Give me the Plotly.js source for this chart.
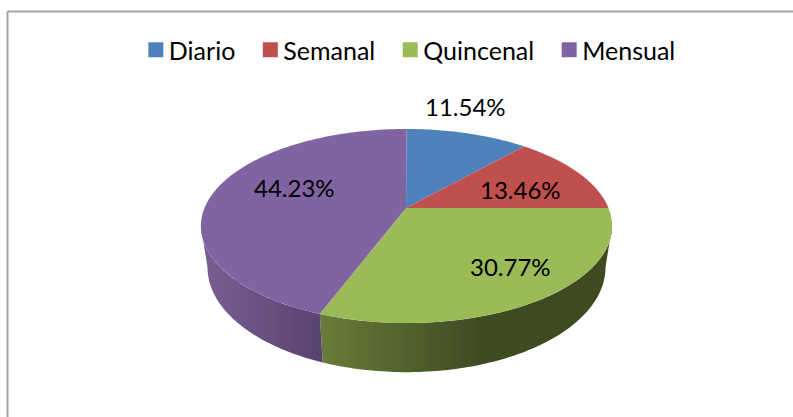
<!DOCTYPE html>
<html><head><meta charset="utf-8">
<script src="https://cdn.plot.ly/plotly-3.0.1.min.js"></script>
<style>html,body{margin:0;padding:0;background:#fff}#c{width:793px;height:417px}</style>
</head><body><div id="c"></div>
<script>
const categories = ["Diario","Semanal","Quincenal","Mensual"];
const shares = [11.54,13.46,30.77,44.23];
const topColors = ["#4f81bd","#c0504d","#9bbb59","#8064a2"];
const FONT = "Lato, Carlito, sans-serif";

// perspective projection of a tilted disc onto the pixel-sized axes
const cx=406, cy=208, R=202, S=93.7, K=0.1856, DEPTH=40, BOTTOM=0.968;
const WIDEST=Math.asin(K)*180/Math.PI; // angle past 90 deg at which the outline is widest
function project(deg, floor){
  const a=deg*Math.PI/180, u=Math.sin(a), v=Math.cos(a), w=1+K*v;
  const f=floor?BOTTOM:1;
  return [cx+0.5+R*f*u/w, cy-S*v/w+(floor?DEPTH/w:0)];
}
function arc(a0,a1,floor){
  const n=Math.max(2,Math.ceil(Math.abs(a1-a0))), xs=[], ys=[];
  for(let i=0;i<=n;i++){const p=project(a0+(a1-a0)*i/n,floor);xs.push(p[0]);ys.push(p[1]);}
  return [xs,ys];
}
let acc=0; const bounds=shares.map(s=>{const b=[acc*3.6,(acc+s)*3.6];acc+=s;return b;});

const traces=[];
// side walls (front part only, between the widest points of the outline)
function wall(a0,a1,stops){
  const t=arc(a0,a1,false), b=arc(a1,a0,true);
  traces.push({type:"scatter",mode:"none",hoverinfo:"skip",showlegend:false,fill:"toself",
    x:t[0].concat(b[0]),y:t[1].concat(b[1]),
    fillgradient:{type:"horizontal",colorscale:stops}});
}
wall(90+WIDEST,bounds[2][1],[[0,"#677d3a"],[0.55,"#3f4a21"],[1,"#3f4a21"]]);
wall(bounds[3][0],270-WIDEST,[[0,"#7a5f94"],[1,"#584270"]]);
// top face
shares.forEach((s,i)=>{
  const e=arc(bounds[i][0],bounds[i][1],false);
  traces.push({type:"scatter",mode:"none",hoverinfo:"skip",showlegend:false,fill:"toself",
    fillcolor:topColors[i],x:[cx].concat(e[0],[cx]),y:[cy].concat(e[1],[cy])});
});
// legend entries
categories.forEach((c,i)=>traces.push({type:"scatter",mode:"markers",name:c,x:[null],y:[null],
  marker:{symbol:"square",size:15,color:topColors[i]}}));

const pct=shares.map(s=>s.toFixed(2)+"%");
const labelAt=[[465,106],[520,189],[510,266],[294,187]];
const layout={
  width:793,height:417,margin:{l:0,r:0,t:0,b:0},
  paper_bgcolor:"#fff",plot_bgcolor:"#fff",
  xaxis:{range:[0,793],visible:false,fixedrange:true},
  yaxis:{range:[417,0],visible:false,fixedrange:true},
  font:{family:FONT,size:24,color:"#000"},
  legend:{orientation:"h",x:0.1587,xanchor:"left",y:0.935,yanchor:"top",itemwidth:33,
    font:{family:FONT,size:25,color:"#000"},bgcolor:"rgba(0,0,0,0)"},
  shapes:[
    {type:"line",xref:"x",yref:"y",x0:7.5,x1:793,y0:11.5,y1:11.5,line:{color:"#a3a3a3",width:2}},
    {type:"line",xref:"x",yref:"y",x0:7.5,x1:7.5,y0:11.5,y1:417,line:{color:"#a3a3a3",width:2}}
  ],
  annotations:pct.map((t,i)=>({text:t,xref:"x",yref:"y",x:labelAt[i][0],y:labelAt[i][1],showarrow:false,
    xanchor:"center",yanchor:"middle",font:{family:FONT,size:24,color:"#000"}}))
};
Plotly.newPlot("c",traces,layout,{staticPlot:true,displayModeBar:false}).then(()=>{
  document.querySelectorAll(".legend .legendsymbols").forEach(n=>n.setAttribute("transform","translate(8.5,0)"));
});
</script></body></html>
